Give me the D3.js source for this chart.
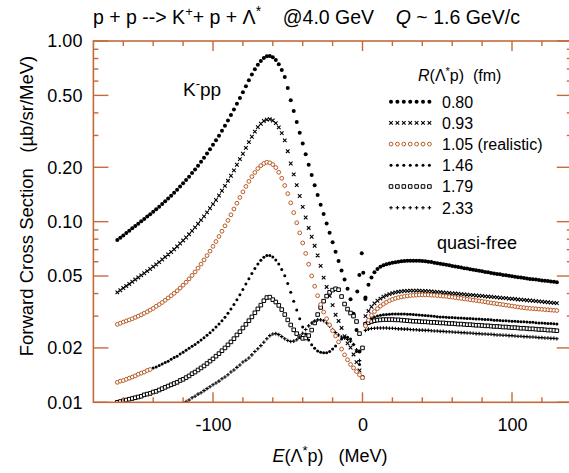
<!DOCTYPE html>
<html><head><meta charset="utf-8">
<script src="https://cdn.jsdelivr.net/npm/d3@7"></script>
<style>
body{margin:0;background:#fff;}
text{font-family:Arial,"Liberation Sans",sans-serif;fill:#000;}
</style>
</head><body>
<svg id="chart" width="569" height="473"></svg>
<script>
// ---------- data ----------
const energiesBound = [-164,-162,-160,-158,-156,-154,-152,-150,-148,-146,-144,-142,-140,-138,-136,-134,-132,-130,-128,-126,-124,-122,-120,-118,-116,-114,-112,-110,-108,-106,-104,-102,-100,-98,-96,-94,-92,-90,-88,-86,-84,-82,-80,-78,-76,-74,-72,-70,-68,-66,-64,-62,-60,-58,-56,-54,-52,-50,-48,-46,-44,-42,-40,-38,-36,-34,-32,-30,-28,-26,-24,-22,-20,-18,-16,-14,-12,-10,-8,-6,-4,-2,0];
const energiesFree = [2,4,6,8,10,12,14,16,18,20,22,24,26,28,30,32,34,36,38,40,42,44,46,48,50,52,54,56,58,60,62,64,66,68,70,72,74,76,78,80,82,84,86,88,90,92,94,96,98,100,102,104,106,108,110,112,114,116,118,120,122,124,126,128,130];

const r080Bound = [0.0791,0.0815,0.0839,0.0865,0.0891,0.0918,0.0946,0.0975,0.1005,0.1035,
0.1067,0.1099,0.1135,0.1172,0.1211,0.1253,0.1297,0.1343,0.1393,0.1445,
0.1503,0.1563,0.1629,0.1698,0.1774,0.1858,0.1945,0.2042,0.2148,0.2259,
0.2382,0.2518,0.2661,0.2818,0.2992,0.3184,0.3396,0.3631,0.3890,0.4178,
0.4498,0.4842,0.5200,0.5623,0.6067,0.6516,0.6966,0.7396,0.7762,0.8054,
0.8222,0.8260,0.8128,0.7852,0.7447,0.6918,0.6310,0.5495,0.4699,0.4093,
0.3565,0.3105,0.2704,0.2360,0.2065,0.1811,0.1592,0.1403,0.1242,0.1102,
0.0977,0.0867,0.0769,0.0682,0.0605,0.0537,0.0479,0.0425,0.0372,0.0309,
0.0251,0.0191,0.0138];
const r080Free = [0.0380,0.0447,0.0490,0.0525,0.0547,0.0562,0.0573,0.0581,0.0586,0.0592,
0.0596,0.0600,0.0603,0.0605,0.0607,0.0608,0.0608,0.0608,0.0607,0.0605,
0.0603,0.0600,0.0597,0.0593,0.0589,0.0585,0.0581,0.0577,0.0573,0.0569,
0.0565,0.0561,0.0557,0.0553,0.0550,0.0546,0.0542,0.0538,0.0535,0.0531,
0.0527,0.0524,0.0520,0.0516,0.0513,0.0511,0.0507,0.0505,0.0501,0.0499,
0.0495,0.0493,0.0490,0.0488,0.0485,0.0482,0.0480,0.0478,0.0475,0.0473,
0.0471,0.0469,0.0467,0.0465,0.0462];
// isolated 0.80 points right at the threshold
const r080ThresholdE = [-3.5,-2.1,-0.5,0.5,1.9];
const r080ThresholdV = [0.0410,0.0507,0.0668,0.0522,0.0373];

const r093Bound = [0.0406,0.0417,0.0429,0.0440,0.0452,0.0465,0.0478,0.0491,0.0504,0.0518,
0.0532,0.0547,0.0564,0.0579,0.0597,0.0617,0.0637,0.0658,0.0679,0.0703,
0.0729,0.0757,0.0787,0.0817,0.0851,0.0889,0.0929,0.0973,0.1019,0.1069,
0.1125,0.1186,0.1250,0.1318,0.1396,0.1483,0.1578,0.1683,0.1795,0.1923,
0.2065,0.2218,0.2377,0.2559,0.2754,0.2951,0.3148,0.3334,0.3483,0.3606,
0.3673,0.3690,0.3631,0.3508,0.3327,0.3090,0.2818,0.2455,0.2099,0.1828,
0.1592,0.1387,0.1208,0.1054,0.0923,0.0825,0.0735,0.0650,0.0569,0.0490,
0.0435,0.0388,0.0345,0.0305,0.0282,0.0258,0.0232,0.0212,0.0201,0.0184,
0.0167,0.0150,0.0137];
const r093Free = [0.0300,0.0320,0.0338,0.0353,0.0365,0.0375,0.0384,0.0391,0.0397,0.0402,
0.0406,0.0409,0.0411,0.0413,0.0414,0.0415,0.0415,0.0415,0.0415,0.0414,
0.0413,0.0412,0.0411,0.0409,0.0408,0.0407,0.0405,0.0404,0.0403,0.0401,
0.0400,0.0399,0.0397,0.0396,0.0394,0.0393,0.0392,0.0390,0.0389,0.0388,
0.0386,0.0385,0.0384,0.0382,0.0381,0.0379,0.0378,0.0377,0.0375,0.0374,
0.0373,0.0371,0.0370,0.0369,0.0367,0.0366,0.0365,0.0363,0.0362,0.0361,
0.0359,0.0358,0.0356,0.0355,0.0354];

const r105Bound = [0.0270,0.0274,0.0278,0.0282,0.0286,0.0290,0.0295,0.0300,0.0305,0.0311,
0.0317,0.0324,0.0331,0.0340,0.0348,0.0357,0.0367,0.0378,0.0389,0.0401,
0.0414,0.0429,0.0445,0.0462,0.0482,0.0504,0.0527,0.0553,0.0582,0.0614,
0.0649,0.0687,0.0730,0.0776,0.0828,0.0885,0.0948,0.1016,0.1091,0.1175,
0.1265,0.1361,0.1462,0.1567,0.1671,0.1774,0.1871,0.1968,0.2042,0.2099,
0.2133,0.2118,0.2070,0.1991,0.1875,0.1738,0.1585,0.1429,0.1271,0.1122,
0.0986,0.0867,0.0762,0.0667,0.0581,0.0501,0.0439,0.0389,0.0348,0.0316,
0.0290,0.0268,0.0249,0.0233,0.0216,0.0197,0.0183,0.0172,0.0162,0.0155,
0.0148,0.0142,0.0137];
const r105Free = [0.0265,0.0285,0.0303,0.0318,0.0330,0.0341,0.0350,0.0358,0.0365,0.0371,
0.0376,0.0380,0.0383,0.0386,0.0388,0.0390,0.0391,0.0392,0.0393,0.0393,
0.0393,0.0393,0.0392,0.0391,0.0390,0.0389,0.0387,0.0386,0.0384,0.0382,
0.0380,0.0378,0.0376,0.0374,0.0372,0.0370,0.0368,0.0366,0.0364,0.0362,
0.0360,0.0357,0.0355,0.0353,0.0351,0.0349,0.0347,0.0345,0.0343,0.0341,
0.0339,0.0337,0.0335,0.0334,0.0332,0.0331,0.0330,0.0329,0.0328,0.0327,
0.0326,0.0325,0.0324,0.0323,0.0322];

const r146Bound = [0.0129,0.0131,0.0132,0.0134,0.0136,0.0138,0.0140,0.0143,0.0145,0.0147,
0.0150,0.0152,0.0155,0.0157,0.0160,0.0163,0.0166,0.0169,0.0173,0.0177,
0.0180,0.0185,0.0189,0.0194,0.0199,0.0204,0.0209,0.0215,0.0221,0.0228,
0.0235,0.0243,0.0251,0.0261,0.0271,0.0283,0.0296,0.0311,0.0328,0.0348,
0.0369,0.0394,0.0421,0.0451,0.0483,0.0516,0.0550,0.0582,0.0612,0.0635,
0.0649,0.0649,0.0637,0.0614,0.0582,0.0543,0.0501,0.0455,0.0407,0.0363,
0.0324,0.0290,0.0261,0.0239,0.0221,0.0208,0.0199,0.0192,0.0189,0.0188,
0.0188,0.0191,0.0197,0.0205,0.0215,0.0224,0.0229,0.0229,0.0224,0.0209,
0.0191,0.0162,0.0138];
const r146Free = [0.0275,0.0285,0.0292,0.0297,0.0300,0.0303,0.0305,0.0306,0.0307,0.0308,
0.0308,0.0308,0.0308,0.0308,0.0307,0.0307,0.0306,0.0305,0.0304,0.0303,
0.0302,0.0301,0.0300,0.0299,0.0298,0.0297,0.0297,0.0296,0.0295,0.0295,
0.0294,0.0293,0.0293,0.0292,0.0291,0.0291,0.0290,0.0289,0.0289,0.0288,
0.0287,0.0287,0.0286,0.0285,0.0285,0.0284,0.0283,0.0283,0.0282,0.0281,
0.0281,0.0280,0.0279,0.0279,0.0278,0.0277,0.0277,0.0276,0.0275,0.0275,
0.0274,0.0273,0.0273,0.0272,0.0271];

const r179Bound = [0.0100,0.0101,0.0102,0.0103,0.0104,0.0105,0.0106,0.0107,0.0108,0.0110,
0.0111,0.0112,0.0114,0.0115,0.0117,0.0119,0.0121,0.0123,0.0125,0.0127,
0.0129,0.0132,0.0134,0.0137,0.0140,0.0144,0.0147,0.0151,0.0155,0.0159,
0.0164,0.0169,0.0174,0.0180,0.0186,0.0193,0.0200,0.0208,0.0216,0.0225,
0.0236,0.0246,0.0258,0.0270,0.0283,0.0297,0.0313,0.0329,0.0345,0.0365,
0.0380,0.0382,0.0370,0.0359,0.0344,0.0326,0.0306,0.0286,0.0268,0.0252,
0.0240,0.0231,0.0226,0.0227,0.0234,0.0251,0.0275,0.0306,0.0335,0.0363,
0.0387,0.0406,0.0418,0.0425,0.0420,0.0385,0.0350,0.0328,0.0312,0.0300,
0.0280,0.0240,0.0200];
const r179Free = [0.0270,0.0276,0.0280,0.0283,0.0285,0.0286,0.0287,0.0287,0.0287,0.0287,
0.0286,0.0286,0.0285,0.0284,0.0283,0.0282,0.0281,0.0281,0.0280,0.0279,
0.0279,0.0278,0.0277,0.0277,0.0276,0.0275,0.0275,0.0274,0.0273,0.0273,
0.0272,0.0271,0.0271,0.0270,0.0269,0.0269,0.0268,0.0267,0.0267,0.0266,
0.0265,0.0265,0.0264,0.0263,0.0263,0.0262,0.0261,0.0261,0.0260,0.0259,
0.0259,0.0258,0.0257,0.0257,0.0256,0.0255,0.0255,0.0254,0.0253,0.0253,
0.0252,0.0251,0.0251,0.0250,0.0249];

const r233Bound = [0.0062,0.0064,0.0065,0.0066,0.0068,0.0069,0.0071,0.0072,0.0074,0.0075,
0.0077,0.0078,0.0080,0.0082,0.0083,0.0085,0.0087,0.0089,0.0091,0.0093,
0.0094,0.0096,0.0099,0.0101,0.0103,0.0106,0.0108,0.0111,0.0113,0.0116,
0.0119,0.0122,0.0125,0.0128,0.0131,0.0135,0.0138,0.0142,0.0147,0.0151,
0.0156,0.0161,0.0167,0.0171,0.0176,0.0183,0.0191,0.0198,0.0206,0.0215,
0.0225,0.0234,0.0239,0.0240,0.0237,0.0231,0.0225,0.0220,0.0217,0.0218,
0.0222,0.0230,0.0241,0.0253,0.0265,0.0275,0.0282,0.0286,0.0286,0.0283,
0.0275,0.0264,0.0253,0.0243,0.0236,0.0230,0.0227,0.0223,0.0218,0.0209,
0.0195,0.0170,0.0138];
const r233Free = [0.0250,0.0254,0.0256,0.0257,0.0258,0.0258,0.0258,0.0258,0.0257,0.0257,
0.0256,0.0255,0.0255,0.0254,0.0254,0.0253,0.0252,0.0252,0.0251,0.0251,
0.0250,0.0250,0.0249,0.0248,0.0248,0.0247,0.0247,0.0246,0.0246,0.0245,
0.0244,0.0244,0.0243,0.0243,0.0242,0.0242,0.0241,0.0240,0.0240,0.0239,
0.0239,0.0238,0.0238,0.0237,0.0236,0.0236,0.0235,0.0235,0.0234,0.0234,
0.0233,0.0232,0.0232,0.0231,0.0231,0.0230,0.0230,0.0229,0.0228,0.0228,
0.0227,0.0227,0.0226,0.0226,0.0225];

const seriesLabels = ["0.80","0.93","1.05 (realistic)","1.46","1.79","2.33"];
const yTickValues = [0.01,0.02,0.05,0.1,0.2,0.5,1];
const yTickLabels = ["0.01","0.02","0.05","0.10","0.20","0.50","1.00"];
const xTickValues = [-100,0,100];
const xTickLabels = ["-100","0","100"];

// ---------- chart ----------
const svg = d3.select("#chart");
const axisColor = "#c26b3c";
const orange = "#b85a26";
const x = d3.scaleLinear().domain([-180,140]).range([93.4,571.8]);
const y = d3.scaleLog().domain([0.01,1]).range([402.3,41]);

const series = [
  {label:seriesLabels[0], bound:r080Bound, free:r080Free, extraE:r080ThresholdE, extraV:r080ThresholdV, marker:"dot", color:"#000"},
  {label:seriesLabels[1], bound:r093Bound, free:r093Free, marker:"times",  color:"#000"},
  {label:seriesLabels[3], bound:r146Bound, free:r146Free, marker:"sdot",   color:"#000"},
  {label:seriesLabels[4], bound:r179Bound, free:r179Free, marker:"square", color:"#000"},
  {label:seriesLabels[5], bound:r233Bound, free:r233Free, marker:"plus",   color:"#000"},
  {label:seriesLabels[2], bound:r105Bound, free:r105Free, marker:"ocircle",color:orange}
];

function markerPath(type){
  switch(type){
    case "times": return "M-1.8,-1.8L1.8,1.8M-1.8,1.8L1.8,-1.8";
    case "plus": return "M-1.8,0H1.8M0,-1.8V1.8";
    case "square": return "M-1.8,-1.8H1.8V1.8H-1.8Z";
    default: return null;
  }
}
function drawMarkers(sel, s){
  if(s.marker==="dot"||s.marker==="sdot"){
    sel.append("circle").attr("r", s.marker==="dot"?2.0:1.5).attr("fill",s.color);
  } else if(s.marker==="ocircle"){
    sel.append("circle").attr("r",1.9).attr("fill","#fff").attr("stroke",s.color).attr("stroke-width",1);
  } else if(s.marker==="square"){
    sel.append("path").attr("d",markerPath("square")).attr("fill","#fff").attr("stroke",s.color).attr("stroke-width",1);
  } else {
    sel.append("path").attr("d",markerPath(s.marker)).attr("fill","none").attr("stroke",s.color).attr("stroke-width",1.1);
  }
}

svg.append("clipPath").attr("id","plotclip").append("rect")
  .attr("x",x(-180)).attr("y",y(1)-2).attr("width",x(140)-x(-180)).attr("height",y(0.01)-y(1)+2);

const plot = svg.append("g").attr("clip-path","url(#plotclip)");
function seriesPoints(s){
  let pts = energiesBound.map((e,i)=>({e, v:s.bound[i]}))
    .concat(energiesFree.map((e,i)=>({e, v:s.free[i]})));
  if(s.extraE) pts = pts.concat(s.extraE.map((e,i)=>({e, v:s.extraV[i]})));
  return pts.filter(p=>p.v!=null && p.v>=0.0095);
}
series.forEach(s=>{
  const pts = seriesPoints(s);
  const g = plot.append("g");
  const m = g.selectAll("g").data(pts).join("g")
    .attr("transform",p=>`translate(${x(p.e)},${y(p.v)})`);
  drawMarkers(m, s);
});
// the leftmost stretch of the 1.46 curve is overdrawn in orange in the original figure
const overdrawUntil = -142;
{
  const s = series[2];
  const pts = seriesPoints(s).filter(p=>p.e<=overdrawUntil);
  const m = plot.append("g").selectAll("g").data(pts).join("g")
    .attr("transform",p=>`translate(${x(p.e)},${y(p.v)})`);
  drawMarkers(m, {marker:"ocircle", color:orange});
}

// frame
const frame = svg.append("g").attr("stroke",axisColor).attr("fill","none").attr("stroke-width",1.6);
frame.append("rect").attr("x",x(-180)).attr("y",y(1)).attr("width",x(140)-x(-180)).attr("height",y(0.01)-y(1));

// x ticks (top and bottom, inward)
const xMinor = d3.range(-160,140,20);
const xt = svg.append("g").attr("stroke",axisColor).attr("stroke-width",1.4);
xMinor.forEach(v=>{
  const len = xTickValues.includes(v)?10:5;
  xt.append("line").attr("x1",x(v)).attr("x2",x(v)).attr("y1",y(0.01)).attr("y2",y(0.01)-len);
  xt.append("line").attr("x1",x(v)).attr("x2",x(v)).attr("y1",y(1)).attr("y2",y(1)+len);
});
// y ticks
const yMinor = d3.range(1,10).map(k=>k*0.01).concat(d3.range(1,10).map(k=>k*0.1)).concat([1]);
yMinor.forEach(v=>{
  const major = yTickValues.some(t=>Math.abs(t-v)<1e-9);
  const len = major?15:5;
  xt.append("line").attr("x1",x(-180)).attr("x2",x(-180)+len).attr("y1",y(v)).attr("y2",y(v));
  xt.append("line").attr("x1",x(140)).attr("x2",x(140)-len).attr("y1",y(v)).attr("y2",y(v));
});

// axis labels via d3 axes (tick lines hidden)
const xAxis = d3.axisBottom(x).tickValues(xTickValues).tickSize(0).tickPadding(16)
  .tickFormat((d,i)=>xTickLabels[i]);
const gx = svg.append("g").attr("transform",`translate(0,${y(0.01)})`).call(xAxis);
gx.select(".domain").remove();
gx.selectAll("text").attr("font-size",18).attr("font-family","Arial, 'Liberation Sans', sans-serif").attr("fill","#000");

const yAxis = d3.axisLeft(y).tickValues(yTickValues).tickSize(0).tickPadding(11)
  .tickFormat((d,i)=>yTickLabels[i]);
const gy = svg.append("g").attr("transform",`translate(${x(-180)},0)`).call(yAxis);
gy.select(".domain").remove();
gy.selectAll("text").attr("font-size",18).attr("font-family","Arial, 'Liberation Sans', sans-serif").attr("fill","#000");

// title
const title = svg.append("text").attr("x",93).attr("y",24).attr("font-size",19.5).style("white-space","pre");
title.append("tspan").text("p + p --> K");
title.append("tspan").text("+").attr("font-size",13).attr("dy",-8);
title.append("tspan").text("+ p + Λ").attr("dy",8);
title.append("tspan").text("*").attr("font-size",14).attr("dy",-8);
title.append("tspan").text("    @4.0 GeV    ").attr("dy",8);
title.append("tspan").text("Q").attr("font-style","italic");
title.append("tspan").text(" ~ 1.6 GeV/c");

// y axis title
svg.append("text").attr("transform","translate(33,206) rotate(-90)").attr("text-anchor","middle")
  .attr("font-size",18.5).style("white-space","pre").text("Forward Cross Section   (µb/sr/MeV)");

// x axis title
const xtitle = svg.append("text").attr("x",330).attr("y",462).attr("text-anchor","middle").attr("font-size",18).style("white-space","pre");
xtitle.append("tspan").text("E").attr("font-style","italic");
xtitle.append("tspan").text("(Λ");
xtitle.append("tspan").text("*").attr("font-size",13).attr("dy",-7);
xtitle.append("tspan").text("p)   (MeV)").attr("dy",7);

// K- pp label
const kl = svg.append("text").attr("x",183).attr("y",96).attr("font-size",19);
kl.append("tspan").text("K");
kl.append("tspan").text("-").attr("font-size",13).attr("dy",-8);
kl.append("tspan").text("pp").attr("dy",8);

// quasi-free
svg.append("text").attr("x",437).attr("y",249).attr("font-size",18).text("quasi-free");

// legend
const lg = svg.append("g");
const lt = lg.append("text").attr("x",418).attr("y",81).attr("font-size",16).style("white-space","pre");
lt.append("tspan").text("R").attr("font-style","italic");
lt.append("tspan").text("(Λ");
lt.append("tspan").text("*").attr("font-size",11).attr("dy",-6);
lt.append("tspan").text("p)  (fm)").attr("dy",6);

const legendOrder = [series[0],series[1],series[5],series[2],series[3],series[4]];
legendOrder.forEach((s,i)=>{
  const cy = 101.7 + i*21.2;
  const row = lg.append("g");
  const mk = row.selectAll("g").data(d3.range(7)).join("g")
    .attr("transform",k=>`translate(${391+k*6.4},${cy})`);
  drawMarkers(mk, s);
  row.append("text").attr("x",442).attr("y",cy+5.8).attr("font-size",16).text(s.label);
});
</script>
</body></html>
